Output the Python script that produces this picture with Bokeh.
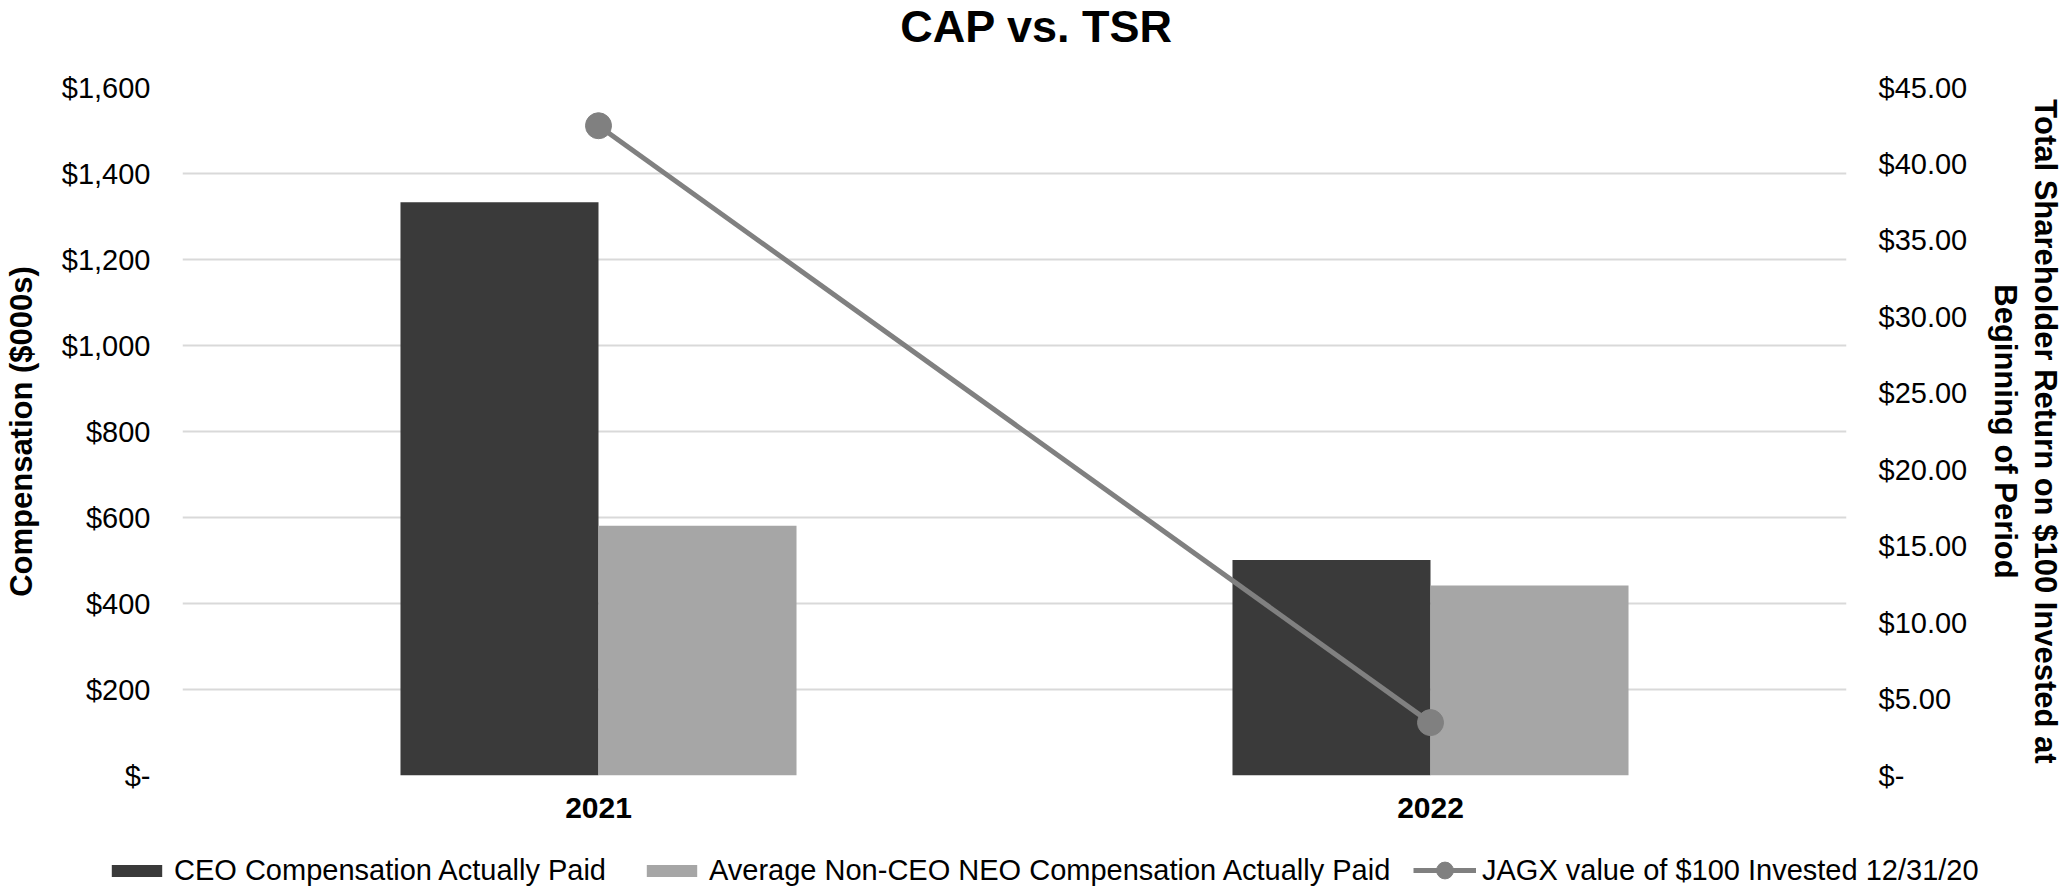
from bokeh.plotting import figure
from bokeh.models import (Range1d, FactorRange, LinearAxis, FixedTicker, Legend,
                          LegendItem, ColumnDataSource, Label)
from bokeh.transform import dodge
from bokeh.embed import file_html
from bokeh.resources import INLINE

# ---- data ----
years = ["2021", "2022"]
ceo_cap = [1333, 501]
neo_cap = [581, 442]
tsr = [42.5, 3.46]

comp_ticks = [0, 200, 400, 600, 800, 1000, 1200, 1400, 1600]
comp_tick_labels = ["$-", "$200", "$400", "$600", "$800", "$1,000", "$1,200", "$1,400", "$1,600"]
tsr_ticks = [0, 5, 10, 15, 20, 25, 30, 35, 40, 45]
tsr_tick_labels = ["$-", "$5.00", "$10.00", "$15.00", "$20.00", "$25.00", "$30.00",
                   "$35.00", "$40.00", "$45.00"]

chart_title = "CAP vs. TSR"
series_names = ["CEO Compensation Actually Paid",
                "Average Non-CEO NEO Compensation Actually Paid",
                "JAGX value of $100 Invested 12/31/20"]

FONT = "Liberation Sans"
DARK = "#3a3a3a"
LIGHT = "#a6a6a6"
LINE = "#808080"
GRID = "#d9d9d9"
W = 2066


def strip(height):
    f = figure(width=W, height=height, x_range=Range1d(0, 1), y_range=Range1d(0, 1),
               x_axis_type=None, y_axis_type=None,
               output_backend="svg", toolbar_location=None,
               min_border_left=0, min_border_right=0, min_border_top=0, min_border_bottom=0)
    f.grid.grid_line_color = None
    f.outline_line_color = None
    return f


# ---- title strip ----
top = strip(54)
top.add_layout(Label(x=1036, y=28, x_units="screen", y_units="screen", text=chart_title,
                     text_align="center", text_baseline="middle",
                     text_font=FONT, text_font_size="45px", text_font_style="bold",
                     text_color="black"))

# ---- main chart ----
src = ColumnDataSource(dict(year=years, ceo=ceo_cap, neo=neo_cap, tsr=tsr))

p = figure(width=W, height=780,
           x_range=FactorRange(factors=years, range_padding=0),
           y_range=Range1d(0, 1600),
           output_backend="svg", toolbar_location=None,
           min_border_left=177, min_border_right=210,
           min_border_top=33, min_border_bottom=59)
p.outline_line_color = None
p.background_fill_color = "white"

p.extra_y_ranges = {"tsr": Range1d(0, 45)}

b1 = p.vbar(x=dodge("year", -0.119, range=p.x_range), top="ceo", width=0.238,
            source=src, fill_color=DARK, line_color=None)
b2 = p.vbar(x=dodge("year", 0.119, range=p.x_range), top="neo", width=0.238,
            source=src, fill_color=LIGHT, line_color=None)
ln = p.line(x="year", y="tsr", source=src, y_range_name="tsr",
            line_width=5, line_color=LINE)
sc = p.scatter(x="year", y="tsr", source=src, y_range_name="tsr",
               marker="circle", size=26, fill_color=LINE, line_color=LINE)

p.xgrid.grid_line_color = None
p.ygrid.grid_line_color = GRID
p.ygrid.grid_line_width = 2

ly = p.yaxis[0]
ly.ticker = FixedTicker(ticks=comp_ticks)
ly.major_label_overrides = dict(zip(comp_ticks, comp_tick_labels))
ly.axis_label = "Compensation ($000s)"

bx = p.xaxis[0]

ry = LinearAxis(y_range_name="tsr", ticker=FixedTicker(ticks=tsr_ticks))
ry.major_label_overrides = dict(zip(tsr_ticks, tsr_tick_labels))
ry.axis_label = "Total Shareholder Return on $100 Invested at\nBeginning of Period"
p.add_layout(ry, "right")

for ax in (ly, ry, bx):
    ax.axis_line_color = None
    ax.major_tick_line_color = None
    ax.minor_tick_line_color = None
    ax.major_tick_out = 0
    ax.major_tick_in = 0
    ax.major_label_text_font = FONT
    ax.major_label_text_font_size = "29px"
    ax.major_label_text_color = "black"
    ax.axis_label_text_font = FONT
    ax.axis_label_text_font_size = "31px"
    ax.axis_label_text_font_style = "bold"
    ax.axis_label_text_color = "black"

ly.major_label_standoff = 32
ly.axis_label_standoff = 20
ry.major_label_standoff = 32
ry.axis_label_standoff = 18
ry.axis_label_text_line_height = 1.15
bx.major_label_standoff = 22
bx.major_label_text_font_style = "bold"
bx.major_label_text_font_size = "30px"

# ---- legend strip ----
lg = strip(55)
proxy = ColumnDataSource(dict(x=[-5], y=[-5], top=[-5]))  # swatch proxies, off-view
g1 = lg.vbar(x="x", top="top", width=0.1, source=proxy, fill_color=DARK, line_color=None)
g2 = lg.vbar(x="x", top="top", width=0.1, source=proxy, fill_color=LIGHT, line_color=None)
g3 = lg.line(x="x", y="y", source=proxy, line_width=5, line_color=LINE)
g4 = lg.scatter(x="x", y="y", source=proxy, marker="circle",
                fill_color=LINE, line_color=LINE)


def make_legend(items, loc, gh):
    L = Legend(items=items, orientation="horizontal", location=loc)
    L.glyph_width = 63
    L.glyph_height = gh
    L.label_height = 15
    L.label_standoff = 6
    L.spacing = 34
    L.padding = 0
    L.margin = 0
    L.border_line_color = None
    L.background_fill_alpha = 0
    L.label_text_font = FONT
    L.label_text_font_size = "29px"
    L.label_text_color = "black"
    return L


legA = make_legend([LegendItem(label=series_names[0], renderers=[g1]),
                    LegendItem(label=series_names[1], renderers=[g2])], (105, 2), 15)
legB = make_legend([LegendItem(label=series_names[2], renderers=[g3, g4])], (1413, -2), 42)
lg.add_layout(legA, "center")
lg.add_layout(legB, "center")

open("out.html", "w").write(file_html([top, p, lg], INLINE))
